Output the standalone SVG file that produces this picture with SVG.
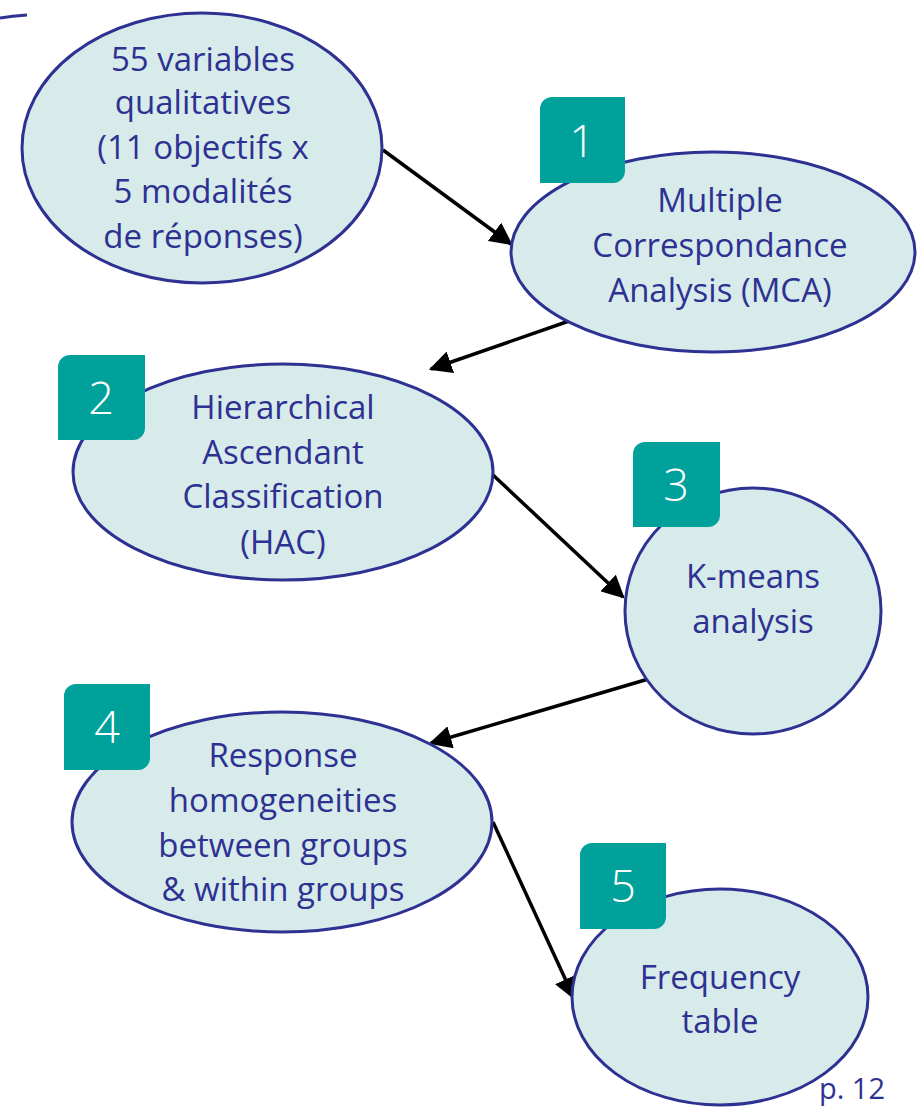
<svg xmlns="http://www.w3.org/2000/svg" width="917" height="1109" viewBox="0 0 917 1109">
<defs>
<style>
.el{fill:#D6EBEA;stroke:#2E3192;stroke-width:3}
.t{font-family:"Open Sans","Noto Sans",sans-serif;font-size:33px;fill:#2E3192;text-anchor:middle}
.b{fill:#00A19A}
.bn{font-family:"Open Sans","Noto Sans",sans-serif;font-size:45px;font-weight:300;fill:#fff;text-anchor:middle}
.c{stroke:#000;stroke-width:3.5;fill:none;marker-end:url(#ah)}
</style>
<marker id="ah" viewBox="0 0 10 10" refX="9" refY="5" markerWidth="6.5" markerHeight="6.5" orient="auto" markerUnits="strokeWidth">
<path d="M0,0 L10,5 L0,10 z" fill="#000"/>
</marker>
</defs>
<path d="M0,18 Q12,16 27,15" stroke="#2E3192" stroke-width="3" fill="none"/>
<g id="connectors">
<line class="c" x1="383" y1="150" x2="511" y2="244"/>
<line class="c" x1="572" y1="320" x2="431" y2="369"/>
<line class="c" x1="493" y1="475" x2="623" y2="597"/>
<line class="c" x1="662" y1="675" x2="431" y2="743"/>
<line class="c" x1="493" y1="822" x2="574" y2="998"/>
</g>
<g id="n0">
<ellipse class="el" cx="202" cy="148" rx="180" ry="135"/>
<text class="t" x="203" y="71">55 variables</text>
<text class="t" x="203" y="114">qualitatives</text>
<text class="t" x="203" y="159">(11 objectifs x</text>
<text class="t" x="203" y="203">5 modalités</text>
<text class="t" x="203" y="248">de réponses)</text>
</g>
<g id="n1">
<ellipse class="el" cx="713" cy="252" rx="202" ry="100"/>
<text class="t" x="720" y="212">Multiple</text>
<text class="t" x="720" y="257">Correspondance</text>
<text class="t" x="720" y="302">Analysis (MCA)</text>
<path class="b" d="M552,97 H625 V171 A12,12 0 0 1 613,183 H540 V109 A12,12 0 0 1 552,97 Z"/>
<text class="bn" x="582" y="157">1</text>
</g>
<g id="n2">
<ellipse class="el" cx="283" cy="472" rx="210" ry="108"/>
<text class="t" x="283" y="419">Hierarchical</text>
<text class="t" x="283" y="464">Ascendant</text>
<text class="t" x="283" y="508">Classification</text>
<text class="t" x="283" y="554">(HAC)</text>
<path class="b" d="M70,355 H145 V428 A12,12 0 0 1 133,440 H58 V367 A12,12 0 0 1 70,355 Z"/>
<text class="bn" x="101" y="414">2</text>
</g>
<g id="n3">
<ellipse class="el" cx="753" cy="611" rx="128" ry="123"/>
<text class="t" x="753" y="588">K-means</text>
<text class="t" x="753" y="633">analysis</text>
<path class="b" d="M645,442 H720 V515 A12,12 0 0 1 708,527 H633 V454 A12,12 0 0 1 645,442 Z"/>
<text class="bn" x="676" y="501">3</text>
</g>
<g id="n4">
<ellipse class="el" cx="282" cy="822" rx="210" ry="110"/>
<text class="t" x="283" y="767">Response</text>
<text class="t" x="283" y="812">homogeneities</text>
<text class="t" x="283" y="857">between groups</text>
<text class="t" x="283" y="901">&amp; within groups</text>
<path class="b" d="M76,684 H150 V758 A12,12 0 0 1 138,770 H64 V696 A12,12 0 0 1 76,684 Z"/>
<text class="bn" x="107" y="743">4</text>
</g>
<g id="n5">
<ellipse class="el" cx="720" cy="997" rx="148" ry="108"/>
<text class="t" x="720" y="989">Frequency</text>
<text class="t" x="720" y="1033">table</text>
<path class="b" d="M592,843 H666 V917 A12,12 0 0 1 654,929 H580 V855 A12,12 0 0 1 592,843 Z"/>
<text class="bn" x="623" y="902">5</text>
</g>
<text x="852" y="1099" style="font-family:'Open Sans','Noto Sans',sans-serif;font-size:29px;fill:#2E3192;text-anchor:middle">p. 12</text>
</svg>
